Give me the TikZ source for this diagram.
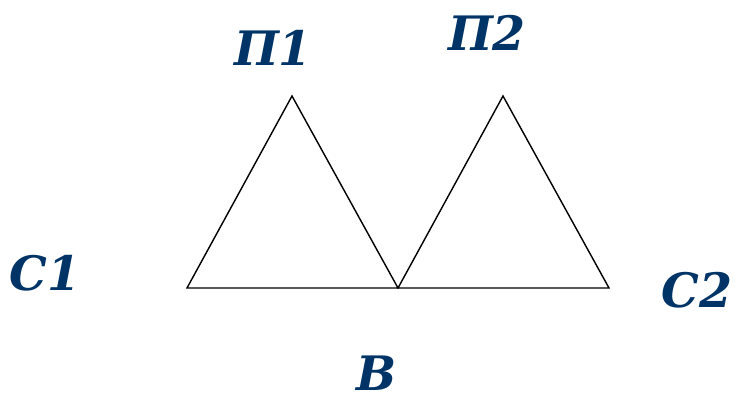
\documentclass[tikz,border=0pt]{standalone}
\usepackage{fontspec}
\newfontfamily\labelfont{DejaVu Serif}
\definecolor{bleufonce}{RGB}{0,51,102}
\tikzset{
  etiquette/.style={text=bleufonce, font=\labelfont\bfseries\itshape\fontsize{27}{30}\selectfont, inner sep=0pt},
  cote/.style={line width=0.8pt, black}
}
\begin{document}
\begin{tikzpicture}[scale=1]

% Cadre
\useasboundingbox (0,0) rectangle (14.72,7.96);

% Sommets
\coordinate (A) at (3.74,2.2);
\coordinate (B) at (7.96,2.2);
\coordinate (D) at (12.18,2.2);
\coordinate (S1) at (5.84,6.04);
\coordinate (S2) at (10.06,6.04);

% Triangle 1
\draw[cote] (A) -- (S1) -- (B) -- cycle;

% Triangle 2
\draw[cote] (B) -- (S2) -- (D) -- cycle;

% Etiquettes
\node[etiquette] (P1) at (5.46,7.0) {П1};
\node[etiquette] (P2) at (9.74,7.3) {П2};
\node[etiquette] (C1) at (0.9,2.5) {С1};
\node[etiquette] (C2) at (13.94,2.16) {С2};
\node[etiquette] (V) at (7.54,0.5) {В};

\end{tikzpicture}
\end{document}
